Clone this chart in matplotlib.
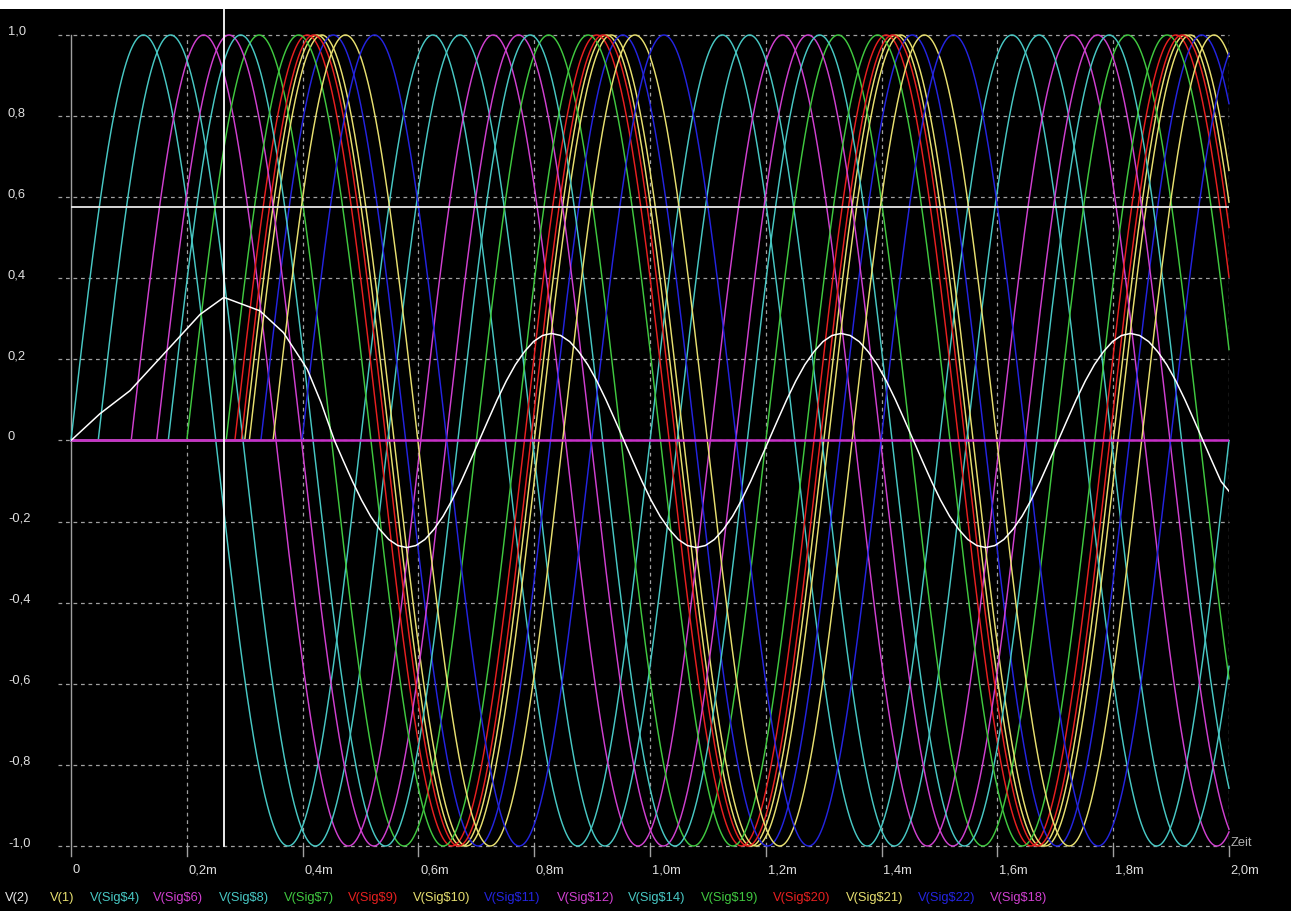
import numpy as np
import matplotlib
matplotlib.use("Agg")
import matplotlib.pyplot as plt
from matplotlib.patches import Rectangle

# ===== data =====
# sine traces (period 0.5 ms, amplitude 1), start delay in ms
sig_names = ["V(1)", "V(Sig$4)", "V(Sig$6)", "V(Sig$8)", "V(Sig$7)", "V(Sig$9)",
             "V(Sig$10)", "V(Sig$11)", "V(Sig$12)", "V(Sig$14)", "V(Sig$19)",
             "V(Sig$20)", "V(Sig$21)", "V(Sig$22)"]
sig_delay = [0.300, 0.0, 0.104, 0.047, 0.200, 0.283,
             0.308, 0.328, 0.148, 0.168, 0.268,
             0.294, 0.349, 0.399]
sig_period = 0.5
sig_amp = 1.0

# V(Sig$18) stays at 0 over the whole run
flat_t = [0.0, 2.0]
flat_v = [0.0, 0.0]

# V(2) (white trace): start-up part
v2_start_t = [0.0, 0.050, 0.102, 0.223, 0.264, 0.326, 0.367, 0.408, 0.432, 0.455]
v2_start_v = [0.0, 0.066, 0.123, 0.311, 0.353, 0.320, 0.266, 0.176, 0.093, 0.0]
# V(2) read every 0.015625 ms from 0.470625 ms on
v2_step_t0 = 0.470625
v2_step = 0.015625
v2_steady_v = [
    -0.051, -0.101, -0.147, -0.187, -0.219, -0.244, -0.259, -0.264,
    -0.259, -0.244, -0.219, -0.187, -0.147, -0.101, -0.051, 0.0,
    0.051, 0.101, 0.147, 0.187, 0.219, 0.244, 0.259,
    0.264, 0.259, 0.244, 0.219, 0.187, 0.147, 0.101, 0.051,
    0.0, -0.051, -0.101, -0.147, -0.187, -0.219, -0.244, -0.259,
    -0.264, -0.259, -0.244, -0.219, -0.187, -0.147, -0.101, -0.051,
    0.0, 0.051, 0.101, 0.147, 0.187, 0.219, 0.244, 0.259,
    0.264, 0.259, 0.244, 0.219, 0.187, 0.147, 0.101, 0.051,
    0.0, -0.051, -0.101, -0.147, -0.187, -0.219, -0.244, -0.259,
    -0.264, -0.259, -0.244, -0.219, -0.187, -0.147, -0.101, -0.051,
    0.0, 0.051, 0.101, 0.147, 0.187, 0.219, 0.244, 0.259,
    0.264, 0.259, 0.244, 0.219, 0.187, 0.147, 0.101, 0.051,
    0.0, -0.051, -0.101,
]
v2_end_t = 2.0
v2_end_v = -0.125

# cursors
cursor_t = 0.264
cursor_v = 0.576

# ticks
x_ticks = [0, 0.2, 0.4, 0.6, 0.8, 1.0, 1.2, 1.4, 1.6, 1.8, 2.0]
x_labels = ["0", "0,2m", "0,4m", "0,6m", "0,8m", "1,0m", "1,2m", "1,4m", "1,6m", "1,8m", "2,0m"]
y_ticks = [1.0, 0.8, 0.6, 0.4, 0.2, 0, -0.2, -0.4, -0.6, -0.8, -1.0]
y_labels = ["1,0", "0,8", "0,6", "0,4", "0,2", "0", "-0,2", "-0,4", "-0,6", "-0,8", "-1,0"]

# ===== styles =====
CYAN = "#48c8c4"
MAG = "#d040d0"
GREEN = "#40c840"
RED = "#e82020"
YEL = "#e8e070"
BLUE = "#2424e0"
GRID = "#a0a0a0"
sig_colors = [YEL, CYAN, MAG, CYAN, GREEN, RED, YEL, BLUE, MAG, CYAN, GREEN, RED, YEL, BLUE]

legend_names = ["V(2)"] + sig_names + ["V(Sig$18)"]
legend_colors = ["#e8e8e8"] + sig_colors + [MAG]
legend_x = [5, 50, 90, 153, 219, 284, 348, 413, 484, 557, 628, 701, 773, 846, 918, 990]

plt.rcParams["font.family"] = ["Liberation Sans", "DejaVu Sans"]

W, H = 1291, 911
fig = plt.figure(figsize=(W / 100, H / 100), dpi=100, facecolor="black")
ax = fig.add_axes([71 / W, 1 - 846 / H, (1229 - 71) / W, (846 - 35) / H])
ax.set_facecolor("black")
ax.set_xlim(0, 2.0)
ax.set_ylim(-1.0, 1.0)
for s in ax.spines.values():
    s.set_visible(False)
ax.set_xticks([])
ax.set_yticks([])

# white strip on top of the window
fig.patches.append(Rectangle((0, 1 - 9 / H), 1, 9 / H, transform=fig.transFigure,
                             facecolor="white", edgecolor="none"))

# grid
for y in y_ticks:
    ax.plot([-0.0225, 2.0], [y, y], color=GRID, lw=0.9, ls=(0, (3, 3)), clip_on=False, zorder=1)
for x in x_ticks[1:]:
    ax.plot([x, x], [-1.0, 1.0], color=GRID, lw=0.9, ls=(0, (3, 3)), zorder=1)
    ax.plot([x, x], [-1.0, -1.025], color=GRID, lw=1.0, clip_on=False, zorder=1)
ax.plot([0, 0], [1.0, -1.025], color=GRID, lw=1.0, clip_on=False, zorder=1)

# sine traces
t = np.linspace(0, 2.0, 4001)
for d, c in zip(sig_delay, sig_colors):
    v = np.where(t >= d, sig_amp * np.sin(2 * np.pi * (t - d) / sig_period), 0.0)
    ax.plot(t, v, color=c, lw=1.05, zorder=2, clip_on=False)

ax.plot(flat_t, flat_v, color="#c830c8", lw=1.8, zorder=3)

# white V(2) trace
steady_t = v2_step_t0 + v2_step * np.arange(len(v2_steady_v))
v2_t = np.concatenate([v2_start_t, steady_t, [v2_end_t]])
v2_v = np.concatenate([v2_start_v, v2_steady_v, [v2_end_v]])
ax.plot(v2_t, v2_v, color="white", lw=1.1, zorder=4)

# cursors
ax.plot([cursor_t, cursor_t], [-1.0, 1.065], color="white", lw=1.3, clip_on=False, zorder=5)
ax.plot([0, 2.0], [cursor_v, cursor_v], color="#e8e8e8", lw=1.3, zorder=5)

# tick labels
for y, lab in zip(y_ticks, y_labels):
    ax.text(-0.109, y, lab, color="#e0e0e0", fontsize=9.3, ha="left", va="baseline", clip_on=False)
for x, lab in zip(x_ticks, x_labels):
    ax.text(x + 0.003, -1.067, lab, color="#e0e0e0", fontsize=9.3, ha="left", va="baseline", clip_on=False)
ax.text(2.0035, -1.0, "Zeit", color="#b0b0b0", fontsize=9.3, ha="left", va="baseline", clip_on=False)

# legend line at the bottom
for xp, name, c in zip(legend_x, legend_names, legend_colors):
    fig.text(xp / W, 1 - 901 / H, name, color=c, fontsize=9.3, ha="left", va="baseline")

fig.savefig("out.png", dpi=100, facecolor="black")
